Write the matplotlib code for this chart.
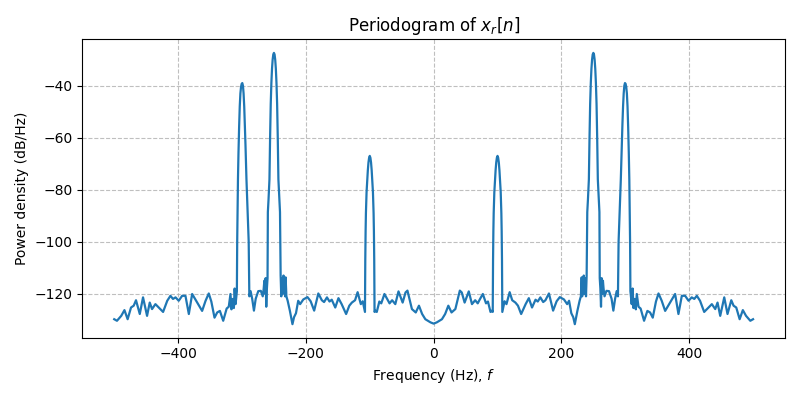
import numpy as np
import matplotlib
matplotlib.use("Agg")
from matplotlib import pyplot as plt

# values (Hz, dB/Hz)
neg_freq = [
    -500, -495.7, -489, -484, -479, -473.7, -469.5, -465.9, -460, -454.9, -448.6,
    -444.4, -440.8, -435.5, -430.3, -423.5, -417, -412, -408, -404, -399,
    -393.7, -388.5, -383.2, -378, -370, -362.4, -357, -352, -348, -343,
    -338.8, -334.6, -329.4, -324, -320.7, -318, -316.5, -314.5, -312.7, -311.5,
    -310, -308, -307.5, -307, -306.3, -305.5, -304.5, -303.5, -302.5, -301.5,
    -300.5, -299.5, -298.5, -297.5, -296.5, -295.5, -294.5, -293, -291, -289.5,
    -288.5, -286.5, -284, -281.3, -278.5, -274.5, -270.5, -267.5, -266, -265,
    -264, -263, -262, -261, -260, -259.5, -258.5, -257, -256, -255,
    -254, -253, -252, -251, -250, -249, -248, -247, -246, -245,
    -244, -243, -241.5, -240.5, -239.5, -238.5, -237.5, -236, -235, -234,
    -232.5, -231.7, -230.5, -228.5, -225, -221, -218.5, -215.5, -212, -209,
    -204, -197.5, -192.5, -187, -180.5, -175, -171.5, -167, -163, -159.5,
    -154, -149, -144, -137, -132, -128, -123, -119, -114, -111,
    -107.5, -107, -106.5, -106, -105, -104, -103, -102, -101, -100,
    -99, -98, -97, -96, -95, -94, -93.5, -93, -92.5, -91.5,
    -89, -85, -82, -77, -72, -69, -65, -60, -55, -48.5,
    -44, -41, -34, -28, -23, -18, -13, -9, -5,
]
neg_power = [
    -129.8, -130.4, -128.5, -126.3, -129.8, -125.3, -124.6, -122.5, -127.8, -121.4, -128.5,
    -123.4, -125.9, -124, -125.3, -127, -122.7, -120.8, -122, -121.4, -122.7,
    -120.8, -120.8, -127.8, -120.1, -123.4, -126.6, -122.7, -119.9, -123, -129.2,
    -127.2, -126.6, -130.4, -125.7, -125, -120.1, -126, -122, -125.5, -118,
    -124, -119, -100, -90, -76, -66, -56, -48, -43, -40.5,
    -39.3, -39, -40, -43, -48, -55, -63, -76, -90, -100,
    -121, -119, -122, -126.5, -121.9, -119, -118.9, -121, -118, -115,
    -120, -114, -125, -118, -114, -88.6, -84, -76, -60, -47,
    -39, -33.5, -30, -28, -27.4, -28, -30, -33.5, -39, -47,
    -60, -76, -84, -88.6, -113, -121, -114, -120, -113, -117,
    -121, -113.7, -121, -122.7, -126.6, -131.7, -129, -127.5, -122.7, -124,
    -122.2, -121.3, -122.9, -126.5, -119.9, -122.5, -123.2, -121.4, -123, -122.3,
    -125.3, -121.7, -124, -127.8, -124.6, -123.4, -122.5, -119.4, -124, -122.9,
    -127, -107, -96, -89, -81, -76.5, -72.5, -69.5, -67.7, -67,
    -67.7, -69.5, -72.5, -76.5, -81, -89, -96, -107, -127, -126.5,
    -127, -123, -123.7, -120.1, -122.3, -123.7, -122.5, -124, -119.1, -123.4,
    -119.5, -118.8, -125.9, -127.2, -124.6, -127.8, -129.8, -130.4, -131,
]

pos_freq = [
    0, 5, 9, 13, 18, 23, 28, 34, 41, 44,
    48.5, 55, 60, 65, 69, 72, 77, 82, 85, 89,
    91.5, 92.5, 93, 93.5, 94, 95, 96, 97, 98, 99,
    100, 101, 102, 103, 104, 105, 106, 106.5, 107, 107.5,
    111, 114, 119, 123, 128, 132, 137, 144, 149, 154,
    159.5, 163, 167, 171.5, 175, 180.5, 187, 192.5, 197.5, 204,
    209, 212, 215.5, 218.5, 221, 225, 228.5, 230.5, 231.7, 232.5,
    234, 235, 236, 237.5, 238.5, 239.5, 240.5, 241.5, 243, 244,
    245, 246, 247, 248, 249, 250, 251, 252, 253, 254,
    255, 256, 257, 258.5, 259.5, 260, 261, 262, 263, 264,
    265, 266, 267.5, 270.5, 274.5, 278.5, 281.3, 284, 286.5, 288.5,
    289.5, 291, 293, 294.5, 295.5, 296.5, 297.5, 298.5, 299.5, 300.5,
    301.5, 302.5, 303.5, 304.5, 305.5, 306.3, 307, 307.5, 308, 310,
    311.5, 312.7, 314.5, 316.5, 318, 320.7, 324, 329.4, 334.6, 338.8,
    343, 348, 352, 357, 362.4, 370, 378, 383.2, 388.5, 393.7,
    399, 404, 408, 412, 417, 423.5, 430.3, 435.5, 440.8, 444.4,
    448.6, 454.9, 460, 465.9, 469.5, 473.7, 479, 484, 489, 495.7,
    500,
]
pos_power = [
    -131.5, -131, -130.4, -129.8, -127.8, -124.6, -127.2, -125.9, -118.8, -119.5,
    -123.4, -119.1, -124, -122.5, -123.7, -122.3, -120.1, -123.7, -123, -127,
    -126.5, -127, -107, -96, -89, -81, -76.5, -72.5, -69.5, -67.7,
    -67, -67.7, -69.5, -72.5, -76.5, -81, -89, -96, -107, -127,
    -122.9, -124, -119.4, -122.5, -123.4, -124.6, -127.8, -124, -121.7, -125.3,
    -122.3, -123, -121.4, -123.2, -122.5, -119.9, -126.5, -122.9, -121.3, -122.2,
    -124, -122.7, -127.5, -129, -131.7, -126.6, -122.7, -121, -113.7, -121,
    -117, -113, -120, -114, -121, -113, -88.6, -84, -76, -60,
    -47, -39, -33.5, -30, -28, -27.4, -28, -30, -33.5, -39,
    -47, -60, -76, -84, -88.6, -114, -118, -125, -114, -120,
    -115, -118, -121, -118.9, -119, -121.9, -126.5, -122, -119, -121,
    -100, -90, -76, -63, -55, -48, -43, -40, -39, -39.3,
    -40.5, -43, -48, -56, -66, -76, -90, -100, -119, -124,
    -118, -125.5, -122, -126, -120.1, -125, -125.7, -130.4, -126.6, -127.2,
    -129.2, -123, -119.9, -122.7, -126.6, -123.4, -120.1, -127.8, -120.8, -120.8,
    -122.7, -121.4, -122, -120.8, -122.7, -127, -125.3, -124, -125.9, -123.4,
    -128.5, -121.4, -127.8, -122.5, -124.6, -125.3, -129.8, -126.3, -128.5, -130.4,
    -129.8,
]

freq = np.concatenate([neg_freq, pos_freq])
power = np.concatenate([neg_power, pos_power])

fig = plt.figure(figsize=(8, 4), dpi=100)
plt.plot(freq, power, color="C0", linewidth=1.6)
plt.title("Periodogram of $x_r[n]$")
plt.xlabel("Frequency (Hz), $f$")
plt.ylabel("Power density (dB/Hz)")
plt.grid(True, linestyle="--", color="#b0b0b0", alpha=0.8)
plt.tight_layout()
plt.savefig("out.png")
